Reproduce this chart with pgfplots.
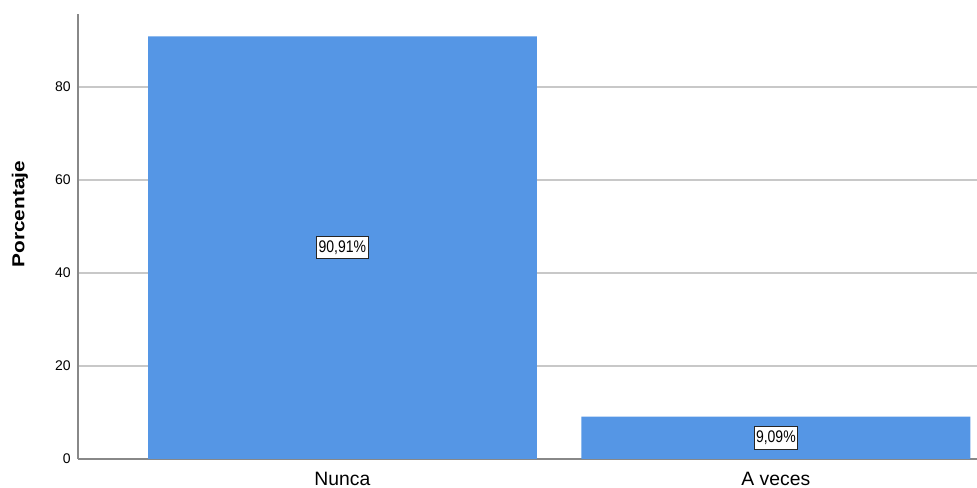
\documentclass[border=0pt]{standalone}
\usepackage{fontspec}
\setmainfont{Liberation Sans}
\usepackage{graphicx}
\usepackage{pgfplots}
\pgfplotsset{compat=1.18}

\definecolor{barblue}{RGB}{85,150,229}
\definecolor{axisgray}{RGB}{136,136,136}
\definecolor{gridgray}{RGB}{200,200,200}

\begin{document}
\begin{tikzpicture}
  \begin{axis}[
      scale only axis,
      width=674.25pt, height=333.75pt,
      xmin=-0.610, xmax=1.464,
      ymin=0, ymax=95.7,
      axis y line*=left,
      axis x line*=bottom,
      axis line style={axisgray, line width=0.9pt},
      xtick={0,1},
      xticklabels={Nunca, A veces},
      ytick={0,20,40,60,80},
      major tick length=0pt,
      ymajorgrids,
      grid style={gridgray, line width=1pt},
      xticklabel style={font=\fontsize{14.5}{16}\selectfont, inner sep=0pt, anchor=north, yshift=-9.75pt},
      yticklabel style={font=\fontsize{10.5}{12}\selectfont, inner sep=0pt, anchor=east, xshift=-5.25pt},
      /pgf/number format/assume math mode=true,
      ylabel={\scalebox{1.2}[1]{\bfseries Porcentaje}},
      ylabel style={font=\fontsize{13}{15}\selectfont, at={([xshift=-43.5pt]axis description cs:0,0.55)}, anchor=center},
    ]
    % porcentajes
    \addplot[ybar, bar width=0.897, bar shift=0pt, fill=barblue, draw=none] coordinates {
      (0, 90.91)
      (1, 9.09)
    };
    % etiquetas de las barras, a media altura
    \addplot[draw=none, mark=none, nodes near coords, point meta=explicit symbolic,
      nodes near coords={\scalebox{1}[1.2]{\pgfplotspointmeta}},
      every node near coord/.style={anchor=center, draw=black!85, line width=0.75pt, fill=white,
        inner xsep=1.5pt, inner ysep=3.2pt, font=\fontsize{10.5}{12}\selectfont}]
      coordinates {
      (0, 45.455) [90,91\%]
      (1, 4.545) [9,09\%]
    };
  \end{axis}
  \pgfresetboundingbox
  \path ([xshift=-58.5pt, yshift=-21.75pt]current axis.south west) rectangle ([yshift=10.5pt]current axis.north east);
\end{tikzpicture}
\end{document}
